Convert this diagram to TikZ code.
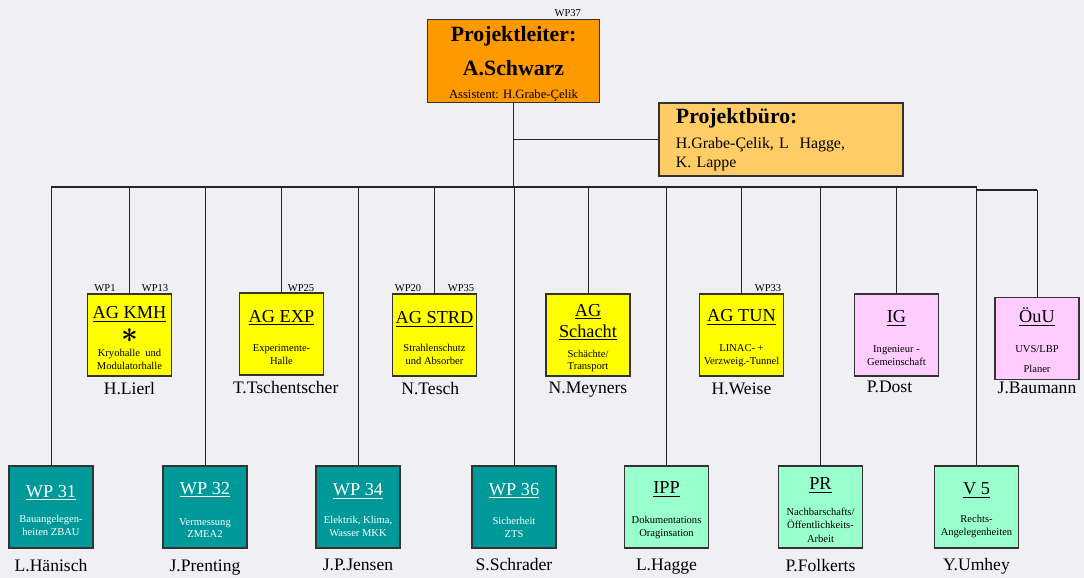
\documentclass[tikz,border=0pt]{standalone}
\usepackage{fontspec}
\setmainfont{Liberation Serif}
\usetikzlibrary{positioning}

\definecolor{bgcolor}{RGB}{239,239,244}
\definecolor{leitorange}{RGB}{255,153,0}
\definecolor{bueroorange}{RGB}{255,204,102}
\definecolor{agyellow}{RGB}{255,255,0}
\definecolor{wpteal}{RGB}{0,153,153}
\definecolor{igpink}{RGB}{255,204,255}
\definecolor{svmint}{RGB}{153,255,204}

\newcommand{\boxtitle}[1]{{\fontsize{13}{15}\selectfont\rule{0pt}{13pt}\underline{#1}}}

\begin{document}
\begin{tikzpicture}[x=0.025cm, y=-0.025cm,
        agbox/.style = {draw=black!80, line width=0.8pt, fill=agyellow, minimum width=2.1cm, minimum height=2.05cm, align=center, inner sep=1pt, font=\fontsize{7.5}{9}\selectfont},
        wpbox/.style = {agbox, fill=wpteal, text=white},
        igbox/.style = {agbox, fill=igpink},
        svbox/.style = {agbox, fill=svmint},
        leitbox/.style = {draw=black!80, line width=0.8pt, fill=leitorange, minimum width=4.3cm, minimum height=2.05cm, align=center, inner sep=1pt},
        buerobox/.style = {draw=black!80, line width=0.8pt, fill=bueroorange, minimum height=1.825cm, text width=5.25cm, inner xsep=0.425cm, align=left, font=\fontsize{11.3}{13.5}\selectfont},
        person/.style = {font=\fontsize{12.5}{14}\selectfont, inner sep=1pt},
        wplabel/.style = {font=\fontsize{7.5}{9}\selectfont, inner sep=0pt},
        line/.style = {draw=black!85, line width=0.6pt},
        ]
        \useasboundingbox[fill=bgcolor] (0,0) rectangle (1084,578);

        % Leitung
        \node [leitbox] (leiter) at (513.5,61) {{\bfseries\fontsize{15.5}{18}\selectfont\rule{0pt}{14.5pt}Projektleiter:}\\[9pt]
            {\bfseries\fontsize{15.5}{18}\selectfont A.Schwarz}\\[4pt]
            {\fontsize{9}{11}\selectfont Assistent: H.Grabe-Çelik}};
        \node [wplabel, above=2pt of leiter.north east, xshift=-23pt] (wp37) {WP37};
        \node [buerobox] (buero) at (781,139.5) {{\bfseries\fontsize{15.5}{18}\selectfont Projektbüro:}\\[4pt]
            H.Grabe-Çelik, L\ \ Hagge,\\
            K. Lappe};

        % Arbeitsgruppen
        \node [agbox] (kmh) at (129.5,335) {\boxtitle{AG KMH}\\[4pt]
            {\fontsize{21}{14}\selectfont\boldmath$\ast$}\\[1pt]
            Kryohalle\ \ und\\ Modulatorhalle};
        \node [agbox] (exp) at (281.5,334) {\boxtitle{AG EXP}\\[12pt] Experimente-\\ Halle};
        \node [agbox] (strd) at (434.5,335) {\boxtitle{AG STRD}\\[11pt] Strahlenschutz\\ und Absorber};
        \node [agbox] (schacht) at (588,335) {\boxtitle{AG}\\[3pt] {\fontsize{13}{15}\selectfont\underline{Schacht}}\\[5pt] Schächte/\\ Transport};
        \node [agbox] (tun) at (741.5,335) {\boxtitle{AG TUN}\\[12pt] LINAC- +\\ Verzweig.-Tunnel};
        \node [igbox] (ig) at (896.5,335) {\boxtitle{IG}\\[12pt] Ingenieur -\\ Gemeinschaft};
        \node [igbox] (ouu) at (1037,338.5) {\boxtitle{ÖuU}\\[12pt] UVS/LBP\\[5pt] Planer};

        % Arbeitspakete
        \node [wpbox] (wp31) at (51,507) {\boxtitle{WP 31}\\[9pt] Bauangelegen-\\ heiten ZBAU};
        \node [wpbox] (wp32) at (205,507) {\boxtitle{WP 32}\\[13pt] Vermessung\\ ZMEA2};
        \node [wpbox] (wp34) at (358,507) {\boxtitle{WP 34}\\[11pt] Elektrik, Klima,\\ Wasser MKK};
        \node [wpbox] (wp36) at (514,507) {\boxtitle{WP 36}\\[12pt] Sicherheit\\ ZTS};
        \node [svbox] (ipp) at (666.5,507) {\boxtitle{IPP}\\[12pt] Dokumentations\\ Oraginsation};
        \node [svbox] (pr) at (820.5,507) {\boxtitle{PR}\\[9pt] Nachbarschafts/\\[0.6pt] Öffentlichkeits-\\[0.6pt] Arbeit};
        \node [svbox] (v5) at (976.5,507) {\boxtitle{V 5}\\[11pt] Rechts-\\ Angelegenheiten};

        % WP-Nummern
        \node [wplabel] (wp1) at (105,288) {WP1};
        \node [wplabel] (wp13) at (155,288) {WP13};
        \node [wplabel] (wp25) at (301,288) {WP25};
        \node [wplabel] (wp20) at (408,288) {WP20};
        \node [wplabel] (wp35) at (461,288) {WP35};
        \node [wplabel] (wp33) at (768,288) {WP33};

        % Verantwortliche
        \node [person, below=3pt of kmh] (lierl) {H.Lierl};
        \node [person, below=3pt of exp, xshift=3pt] (tschentscher) {T.Tschentscher};
        \node [person, below=3pt of strd, xshift=-3pt] (tesch) {N.Tesch};
        \node [person, below=3pt of schacht] (meyners) {N.Meyners};
        \node [person, below=3pt of tun] (weise) {H.Weise};
        \node [person, below=2pt of ig, xshift=-5pt] (dost) {P.Dost};
        \node [person, below=0pt of ouu] (baumann) {J.Baumann};
        \node [person, below=6.5pt of wp31] (haenisch) {L.Hänisch};
        \node [person, below=6.5pt of wp32] (prenting) {J.Prenting};
        \node [person, below=6.5pt of wp34] (jensen) {J.P.Jensen};
        \node [person, below=6pt of wp36] (schrader) {S.Schrader};
        \node [person, below=6pt of ipp] (hagge) {L.Hagge};
        \node [person, below=6.5pt of pr] (folkerts) {P.Folkerts};
        \node [person, below=6pt of v5] (umhey) {Y.Umhey};

        % Verbindungen
        \coordinate (bus) at (0,187);
        \coordinate (bus2) at (0,190);
        \draw [line] (leiter.south) -- (leiter.south |- bus);
        \draw [line] (leiter.south |- buero.west) -- (buero.west);
        \draw [line, line width=1pt] (wp31.north |- bus) -- (v5.north |- bus);
        \draw [line, line width=1pt] (v5.north |- bus2) -- (ouu.north |- bus2);
        \draw [line] (wp31.north |- bus) -- (wp31.north);
        \draw [line] (kmh.north |- bus) -- (kmh.north);
        \draw [line] (wp32.north |- bus) -- (wp32.north);
        \draw [line] (exp.north |- bus) -- (exp.north);
        \draw [line] (wp34.north |- bus) -- (wp34.north);
        \draw [line] (strd.north |- bus) -- (strd.north);
        \draw [line] (wp36.north |- bus) -- (wp36.north);
        \draw [line] (schacht.north |- bus) -- (schacht.north);
        \draw [line] (ipp.north |- bus) -- (ipp.north);
        \draw [line] (tun.north |- bus) -- (tun.north);
        \draw [line] (pr.north |- bus) -- (pr.north);
        \draw [line] (ig.north |- bus) -- (ig.north);
        \draw [line] (v5.north |- bus) -- (v5.north);
        \draw [line] (ouu.north |- bus2) -- (ouu.north);
    \end{tikzpicture}
\end{document}
